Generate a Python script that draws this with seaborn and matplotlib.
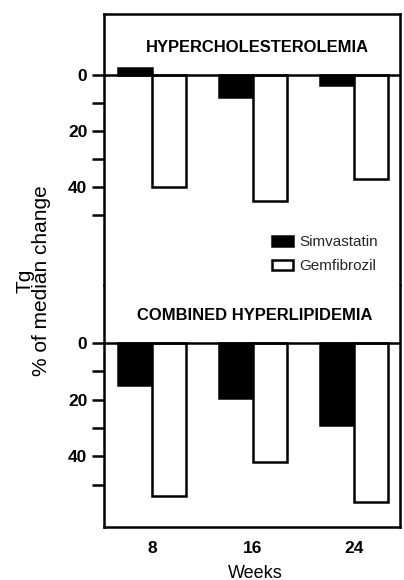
import matplotlib
matplotlib.use("Agg")
import matplotlib.pyplot as plt
import seaborn as sns
import pandas as pd
from matplotlib.patches import Patch
from matplotlib.ticker import FixedLocator

weeks = ["8", "16", "24"]
drugs = ["Simvastatin", "Gemfibrozil"]
hyperchol_simva = [-2.5, 8, 3.5]
hyperchol_gemfi = [40, 45, 37]
combined_simva = [15, 19.5, 29]
combined_gemfi = [54, 42, 56]
panel_titles = ["HYPERCHOLESTEROLEMIA", "COMBINED HYPERLIPIDEMIA"]
major_ticks = [0, 20, 40]
minor_ticks = [10, 30, 50]

sns.set_theme(style="white")
plt.rcParams['font.family'] = ['Liberation Sans', 'DejaVu Sans']

LW = 1.8
fig = plt.figure(figsize=(4.04, 5.80), dpi=100)
ax_top = fig.add_axes([104/404, 1-285/580, 296/404, (285-14)/580])
ax_bot = fig.add_axes([104/404, 1-527/580, 296/404, (527-285)/580])

palette = {"Simvastatin": "black", "Gemfibrozil": "white"}

def make_df(simva, gemfi):
    return pd.DataFrame({
        "week": weeks + weeks,
        "drug": [drugs[0]] * len(weeks) + [drugs[1]] * len(weeks),
        "value": list(simva) + list(gemfi),
    })

panels = [
    (ax_top, make_df(hyperchol_simva, hyperchol_gemfi), (75, -21.8)),
    (ax_bot, make_df(combined_simva, combined_gemfi), (65, -20.5)),
]

for ax, df, ylim in panels:
    sns.barplot(data=df, x="week", y="value", hue="drug", hue_order=drugs,
                order=weeks, palette=palette, edgecolor="black", linewidth=LW,
                width=0.67, errorbar=None, legend=False, ax=ax)
    ax.set_ylim(*ylim)
    ax.set_xlim(-0.475, 2.455)
    ax.axhline(0, color="black", lw=LW, zorder=5)
    ax.yaxis.set_major_locator(FixedLocator(major_ticks))
    ax.yaxis.set_minor_locator(FixedLocator(minor_ticks))
    ax.set_yticklabels([str(t) for t in major_ticks], fontsize=12.5, fontweight="bold")
    ax.tick_params(axis="y", which="both", direction="out", length=9, width=LW,
                   color="black", left=True, pad=3, labelcolor="black")
    ax.set_xlabel("")
    ax.set_ylabel("")
    for s in ax.spines.values():
        s.set_color("black")
        s.set_linewidth(LW)

ax_top.spines["bottom"].set_visible(False)
ax_bot.spines["top"].set_visible(False)
ax_top.set_xticks([])
ax_bot.tick_params(axis="x", length=0, pad=10, labelsize=12.5, labelcolor="black")
for lab in ax_bot.get_xticklabels():
    lab.set_fontweight("bold")

fig.text(257/404, 1-48/580, panel_titles[0], ha="center", va="center",
         fontsize=11.9, fontweight="bold", color="black")
fig.text(255/404, 1-316/580, panel_titles[1], ha="center", va="center",
         fontsize=11.9, fontweight="bold", color="black")

fig.text(33/404, 1-281/580, "Tg\n% of median change", rotation=90,
         ha="center", va="center", multialignment="center", linespacing=0.85,
         fontsize=15, color="black")
fig.text(255/404, 1-573/580, "Weeks", ha="center", va="center", fontsize=13, color="black")

handles = [Patch(facecolor="black", edgecolor="black", linewidth=LW),
           Patch(facecolor="white", edgecolor="black", linewidth=LW)]
ax_top.legend(handles, drugs, loc="upper left", bbox_to_anchor=(272/404, 1-235/580),
              bbox_transform=fig.transFigure, frameon=False, fontsize=11,
              handlelength=1.37, handleheight=0.65, handletextpad=0.4,
              labelspacing=0.66, borderpad=0, borderaxespad=0)

fig.savefig("out.png", dpi=100)
